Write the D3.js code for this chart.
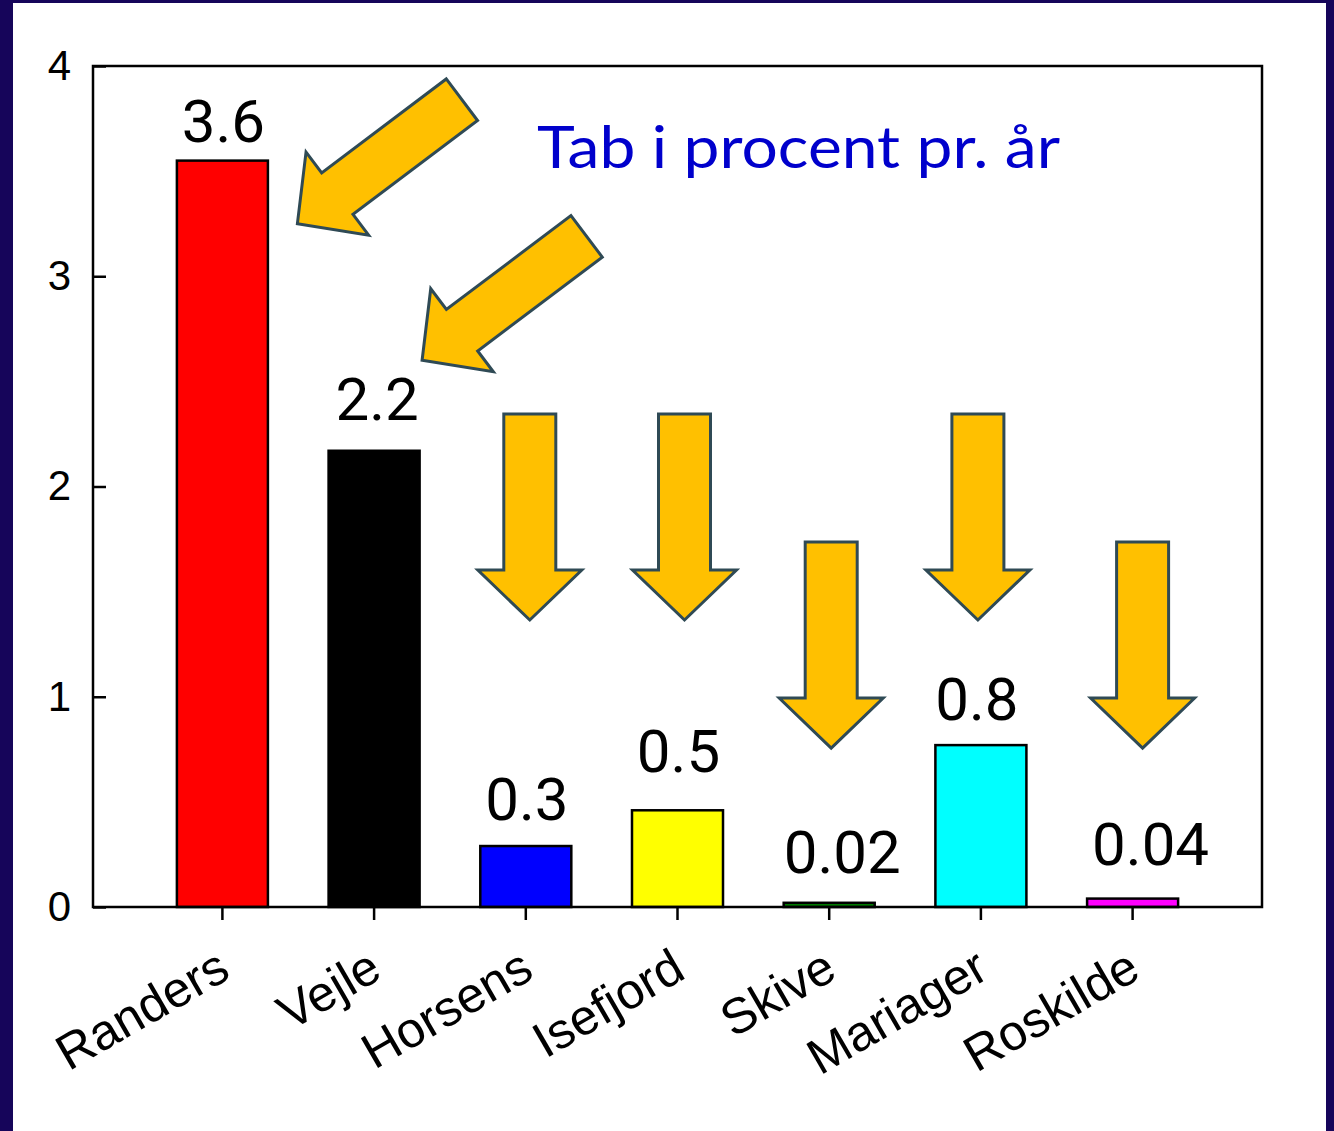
<html>
<head>
<script src="https://d3js.org/d3.v7.min.js"></script>
<style>
  body { margin: 0; background: #16055a; }
  svg { display: block; }
</style>
</head>
<body>
<svg width="1334" height="1131"></svg>
<script>
// data
const places = ["Randers", "Vejle", "Horsens", "Isefjord", "Skive", "Mariager", "Roskilde"];
const loss = [3.55, 2.17, 0.29, 0.46, 0.02, 0.77, 0.04];
const lossLabels = ["3.6", "2.2", "0.3", "0.5", "0.02", "0.8", "0.04"];
const barColors = ["#ff0000", "#000000", "#0000ff", "#ffff00", "#008000", "#00ffff", "#ff00ff"];
const yTicks = [0, 1, 2, 3, 4];
const title = "Tab i procent pr. år";

// where each value label sits relative to its bar top (px)
const labelLift = [19, 31, 26, 38, 30, 25, 34];
const labelShift = [1, 3, 1, 1, 13, -4, 18];

// arrows pointing at the bars (tip in data units, angle in degrees)
const arrows = [
  { place: "Randers", tip: 3.25, dx: 75, angle: 53 },
  { place: "Vejle", tip: 2.6, dx: 48, angle: 53 },
  { place: "Horsens", tip: 1.365, dx: 4, angle: 0 },
  { place: "Isefjord", tip: 1.365, dx: 7, angle: 0 },
  { place: "Skive", tip: 0.756, dx: 2, angle: 0 },
  { place: "Mariager", tip: 1.365, dx: -3, angle: 0 },
  { place: "Roskilde", tip: 0.756, dx: 10, angle: 0 }
];

const svg = d3.select("svg");

// white page inside the navy border
svg.append("rect")
  .attr("x", 13).attr("y", 3)
  .attr("width", 1313).attr("height", 1128)
  .attr("fill", "white");

const plotL = 93, plotR = 1262, plotT = 66, plotB = 907;

const x = d3.scaleBand().domain(places).range([plotL, plotR])
  .paddingInner(0.4).paddingOuter(0.553);
const y = d3.scaleLinear().domain([0, 4]).range([plotB, plotT]);

// bars
svg.append("g")
  .selectAll("rect")
  .data(places)
  .join("rect")
    .attr("x", d => x(d))
    .attr("y", (d, i) => y(loss[i]))
    .attr("width", x.bandwidth())
    .attr("height", (d, i) => y(0) - y(loss[i]))
    .attr("fill", (d, i) => barColors[i])
    .attr("stroke", "#000")
    .attr("stroke-width", 2.5);

// frame
svg.append("rect")
  .attr("x", plotL).attr("y", plotT)
  .attr("width", plotR - plotL).attr("height", plotB - plotT)
  .attr("fill", "none")
  .attr("stroke", "#000")
  .attr("stroke-width", 2.5);

// y axis, ticks inward
const yAxis = svg.append("g")
  .attr("transform", `translate(${plotL},0)`)
  .call(d3.axisLeft(y).tickValues(yTicks).tickFormat(d3.format("d"))
    .tickSizeInner(-13).tickSizeOuter(0).tickPadding(22));
yAxis.select(".domain").remove();
yAxis.selectAll("line").attr("stroke", "#000").attr("stroke-width", 2.5);
yAxis.selectAll("text")
  .attr("font-family", "Liberation Sans, Arial, sans-serif")
  .attr("font-size", 42)
  .attr("fill", "#000");

// x axis, ticks outward, rotated names
const xAxis = svg.append("g")
  .attr("transform", `translate(0,${plotB})`)
  .call(d3.axisBottom(x).tickSizeInner(13).tickSizeOuter(0));
xAxis.select(".domain").remove();
xAxis.selectAll("line").attr("stroke", "#000").attr("stroke-width", 2.5);
xAxis.selectAll("text")
  .attr("x", 0).attr("y", 0).attr("dy", 0)
  .attr("transform", "translate(10,70) rotate(-30)")
  .attr("text-anchor", "end")
  .attr("font-family", "Liberation Sans, Arial, sans-serif")
  .attr("font-size", 50)
  .attr("fill", "#000");

// value labels
svg.append("g")
  .selectAll("text")
  .data(places)
  .join("text")
    .attr("x", (d, i) => x(d) + x.bandwidth() / 2 + labelShift[i])
    .attr("y", (d, i) => y(loss[i]) - labelLift[i])
    .attr("text-anchor", "middle")
    .attr("font-family", "Roboto, sans-serif")
    .attr("font-size", 60)
    .attr("fill", "#000")
    .text((d, i) => lossLabels[i]);

// arrows
const arrowShape = [[-26, -206], [26, -206], [26, -50], [52, -50], [0, 0], [-52, -50], [-26, -50]];
svg.append("g")
  .selectAll("polygon")
  .data(arrows)
  .join("polygon")
    .attr("points", arrowShape.map(p => p.join(",")).join(" "))
    .attr("transform", d => `translate(${x(d.place) + x.bandwidth() / 2 + d.dx},${y(d.tip)}) rotate(${d.angle})`)
    .attr("fill", "#ffc000")
    .attr("stroke", "#2f4a55")
    .attr("stroke-width", 3)
    .attr("stroke-linejoin", "miter");

// title
svg.append("text")
  .attr("x", 537).attr("y", 168)
  .attr("font-family", "Lato, sans-serif")
  .attr("font-size", 58)
  .attr("textLength", 523)
  .attr("lengthAdjust", "spacingAndGlyphs")
  .attr("fill", "#0000cc")
  .text(title);
</script>
</body>
</html>
